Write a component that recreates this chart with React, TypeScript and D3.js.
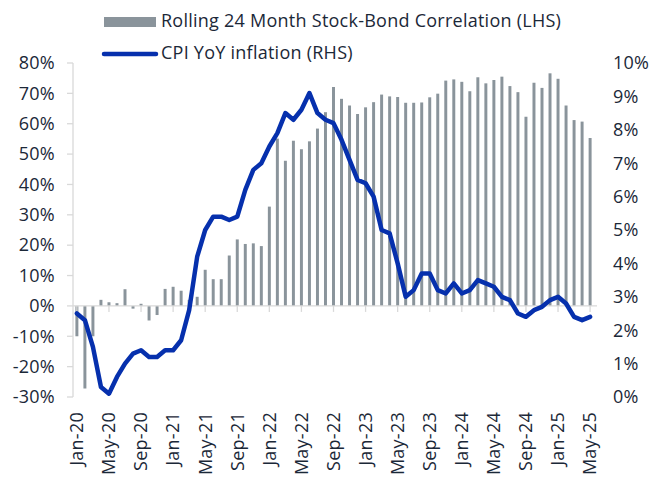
import { useEffect, useRef } from "react";
import * as d3 from "d3";

// monthly, Jan-20 .. May-25
const years = ["20", "21", "22", "23", "24", "25"];
const monthNames = ["Jan", "Feb", "Mar", "Apr", "May", "Jun", "Jul", "Aug", "Sep", "Oct", "Nov", "Dec"];
const months: string[] = [];
years.forEach((y) => monthNames.forEach((m) => months.push(`${m}-${y}`)));
const categories = months.slice(0, 65);

const tickLabels = [
  "Jan-20", "May-20", "Sep-20", "Jan-21", "May-21", "Sep-21", "Jan-22", "May-22", "Sep-22",
  "Jan-23", "May-23", "Sep-23", "Jan-24", "May-24", "Sep-24", "Jan-25", "May-25",
];

// rolling 24m stock-bond correlation, % (LHS)
const correlation = [
  -10, -27.2, -10, 2.0, 1.2, 0.9, 5.5, -0.9, 0.7, -4.8, -3.0, 5.6,
  6.3, 5.0, 2.0, 3.0, 11.9, 8.8, 8.8, 16.6, 21.9, 20.4, 20.6, 19.7,
  32.7, 55.1, 47.8, 54.4, 51.6, 54.2, 58.4, 63.8, 72.1, 68.2, 66.0, 63.2,
  65.4, 67.1, 69.6, 69.0, 68.8, 66.9, 66.9, 67.0, 68.7, 69.9, 74.2, 74.6,
  73.8, 70.7, 75.3, 73.3, 74.4, 75.5, 72.4, 70.4, 62.3, 73.5, 71.8, 76.6,
  74.8, 66.0, 61.2, 60.7, 55.3,
];

// CPI YoY, % (RHS)
const cpi = [
  2.5, 2.3, 1.5, 0.3, 0.1, 0.6, 1.0, 1.3, 1.4, 1.2, 1.2, 1.4,
  1.4, 1.7, 2.6, 4.2, 5.0, 5.4, 5.4, 5.3, 5.4, 6.2, 6.8, 7.0,
  7.5, 7.9, 8.5, 8.3, 8.6, 9.1, 8.5, 8.3, 8.2, 7.7, 7.1, 6.5,
  6.4, 6.0, 5.0, 4.9, 4.0, 3.0, 3.2, 3.7, 3.7, 3.2, 3.1, 3.4,
  3.1, 3.2, 3.5, 3.4, 3.3, 3.0, 2.9, 2.5, 2.4, 2.6, 2.7, 2.9,
  3.0, 2.8, 2.4, 2.3, 2.4,
];

const leftTicks = [80, 70, 60, 50, 40, 30, 20, 10, 0, -10, -20, -30];
const rightTicks = [10, 9, 8, 7, 6, 5, 4, 3, 2, 1, 0];

const W = 649;
const H = 487;
const FONT = "'Open Sans', sans-serif";
const FS = 18;
const LS = 0.25;
const TEXT = "#1b2838";
const AXIS = "#d9d9d9";
const BAR = "#8a949b";
const LINE = "#0630ad";

export default function App() {
  const svgRef = useRef<SVGSVGElement>(null);

  useEffect(() => {
    const svg = d3.select(svgRef.current);
    svg.selectAll("*").remove();

    const top = 63;
    const bottom = 397;

    const x = d3.scaleBand().domain(categories).range([73, 594]).paddingInner(0.63).paddingOuter(0.3);
    const yL = d3.scaleLinear().domain([-30, 80]).range([bottom, top]);
    const yR = d3.scaleLinear().domain([0, 10]).range([bottom, top]);
    const cx = (c: string) => (x(c) ?? 0) + x.bandwidth() / 2;

    const txt = (sel: any) =>
      sel.attr("font-family", FONT).attr("font-size", FS).attr("letter-spacing", LS).attr("fill", TEXT);

    // left axis
    const gl = svg.append("g");
    gl.append("line").attr("x1", 73).attr("x2", 73).attr("y1", top).attr("y2", bottom).attr("stroke", AXIS).attr("stroke-width", 1.3);
    gl.selectAll(".lt")
      .data(leftTicks)
      .join("line")
      .attr("x1", 67)
      .attr("x2", 73)
      .attr("y1", (d) => yL(d))
      .attr("y2", (d) => yL(d))
      .attr("stroke", AXIS)
      .attr("stroke-width", 1.3);
    gl.selectAll("text")
      .data(leftTicks)
      .join("text")
      .attr("x", 55)
      .attr("y", (d) => yL(d))
      .attr("dy", "0.35em")
      .attr("text-anchor", "end")
      .call(txt)
      .text((d) => `${d}%`);

    // right axis labels
    svg.append("g")
      .selectAll("text")
      .data(rightTicks)
      .join("text")
      .attr("x", 613)
      .attr("y", (d) => yR(d))
      .attr("dy", "0.35em")
      .call(txt)
      .text((d) => `${d}%`);

    // bars
    svg.append("g")
      .selectAll("rect")
      .data(correlation)
      .join("rect")
      .attr("x", (d, i) => x(categories[i]) ?? 0)
      .attr("width", x.bandwidth())
      .attr("y", (d) => yL(Math.max(0, d)))
      .attr("height", (d) => Math.abs(yL(d) - yL(0)))
      .attr("fill", BAR);

    // x axis at zero
    const y0 = yL(0);
    svg.append("line").attr("x1", 73).attr("x2", 597).attr("y1", y0).attr("y2", y0).attr("stroke", AXIS).attr("stroke-width", 1.3);
    svg.append("g")
      .selectAll("line")
      .data(tickLabels)
      .join("line")
      .attr("x1", (d) => cx(d))
      .attr("x2", (d) => cx(d))
      .attr("y1", y0)
      .attr("y2", y0 + 6)
      .attr("stroke", AXIS)
      .attr("stroke-width", 1.3);
    svg.append("g")
      .selectAll("text")
      .data(tickLabels)
      .join("text")
      .attr("transform", (d) => `translate(${cx(d)},${bottom + 15}) rotate(-90)`)
      .attr("dy", "0.35em")
      .attr("text-anchor", "end")
      .call(txt)
      .text((d) => d);

    // CPI line
    const line = d3
      .line<number>()
      .x((d, i) => cx(categories[i]))
      .y((d) => yR(d));
    svg.append("path")
      .datum(cpi)
      .attr("d", line)
      .attr("fill", "none")
      .attr("stroke", LINE)
      .attr("stroke-width", 4.5)
      .attr("stroke-linejoin", "round")
      .attr("stroke-linecap", "round");

    // legend
    const lg = svg.append("g");
    lg.append("rect").attr("x", 104).attr("y", 17).attr("width", 52).attr("height", 10).attr("fill", BAR);
    lg.append("text")
      .attr("x", 161)
      .attr("y", 21)
      .attr("dy", "0.35em")
      .call(txt)
      .text("Rolling 24 Month Stock-Bond Correlation (LHS)");
    lg.append("line").attr("x1", 104).attr("x2", 156).attr("y1", 54).attr("y2", 54).attr("stroke", LINE).attr("stroke-width", 4.5).attr("stroke-linecap", "round");
    lg.append("text")
      .attr("x", 161)
      .attr("y", 53)
      .attr("dy", "0.35em")
      .call(txt)
      .text("CPI YoY inflation (RHS)");
  }, []);

  return (
    <div style={{ position: "absolute", left: 0, top: 0 }}>
      <svg ref={svgRef} width={W} height={H} style={{ display: "block", background: "#fff" }} />
    </div>
  );
}
